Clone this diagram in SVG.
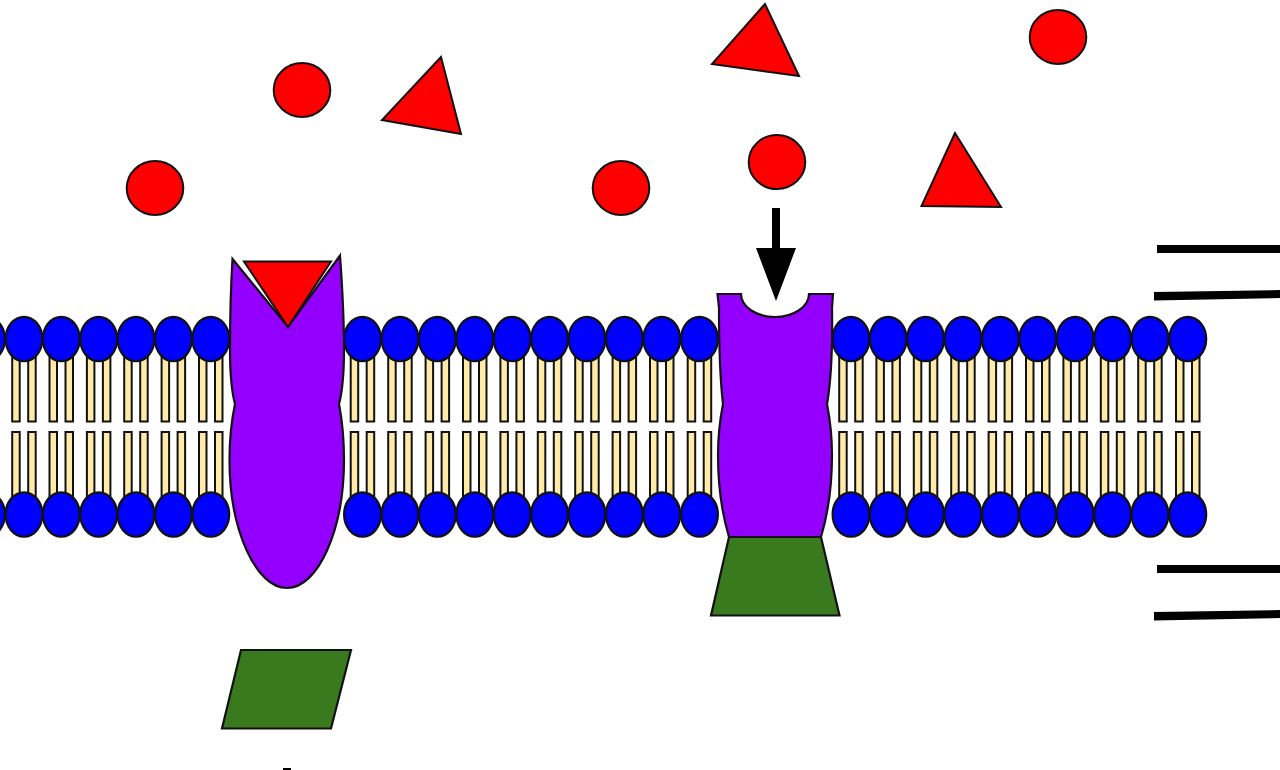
<svg xmlns="http://www.w3.org/2000/svg" xmlns:xlink="http://www.w3.org/1999/xlink" width="1280" height="770" viewBox="0 0 1280 770">
<style>
.head{fill:#0000ff;stroke:#111;stroke-width:2.2}
.tail{fill:#ffeaa8;stroke:#111;stroke-width:2}
.mol{fill:#ff0000;stroke:#111;stroke-width:2;stroke-linejoin:miter}
.prot{fill:#9400ff;stroke:#111;stroke-width:2.2;stroke-linejoin:miter}
.sub{fill:#3a7a1e;stroke:#111;stroke-width:2.2}
.bar{fill:#000}
</style>
<defs>
<!-- one lipid pair: upper and lower phospholipid around x=0 -->
<g id="lipid">
<rect class="tail" x="-11.800" y="352" width="7.500" height="69.500"/>
<rect class="tail" x="4.200" y="352" width="7.500" height="69.500"/>
<rect class="tail" x="-11.800" y="432" width="7.500" height="69"/>
<rect class="tail" x="4.200" y="432" width="7.500" height="69"/>
<ellipse class="head" cx="0" cy="339" rx="18.400" ry="22.200"/>
<ellipse class="head" cx="0" cy="514.500" rx="18.400" ry="22.200"/>
</g>
<ellipse id="ball" class="mol" rx="28.300" ry="27"/>
</defs>
<rect width="1280" height="770" fill="#fff"/>
<g id="membrane-left">
<use xlink:href="#lipid" x="-13.5"/><use xlink:href="#lipid" x="24"/><use xlink:href="#lipid" x="61.3"/><use xlink:href="#lipid" x="98.7"/><use xlink:href="#lipid" x="136"/><use xlink:href="#lipid" x="173.4"/><use xlink:href="#lipid" x="210.8"/>
</g>
<g id="membrane-middle">
<use xlink:href="#lipid" x="362.5"/><use xlink:href="#lipid" x="400"/><use xlink:href="#lipid" x="437.4"/><use xlink:href="#lipid" x="474.8"/><use xlink:href="#lipid" x="512.2"/><use xlink:href="#lipid" x="549.6"/><use xlink:href="#lipid" x="587"/><use xlink:href="#lipid" x="624.4"/><use xlink:href="#lipid" x="661.8"/><use xlink:href="#lipid" x="699.5"/>
</g>
<g id="membrane-right">
<use xlink:href="#lipid" x="851"/><use xlink:href="#lipid" x="888.2"/><use xlink:href="#lipid" x="925.6"/><use xlink:href="#lipid" x="963"/><use xlink:href="#lipid" x="1000.4"/><use xlink:href="#lipid" x="1037.8"/><use xlink:href="#lipid" x="1075.2"/><use xlink:href="#lipid" x="1112.6"/><use xlink:href="#lipid" x="1150"/><use xlink:href="#lipid" x="1187.8"/>
</g>
<g id="carrier-protein">
<path class="prot" d="M232.500 259 L288 327 L340 255.500 Q344 310 344 350 Q344 385 339 404 Q344 430 344 460 C344 530 318 588 287 588 C256 588 229.500 530 229.500 460 Q229.500 430 235 404 Q230 385 230 350 Q230 300 232.500 259Z"/>
</g>
<g id="bound-triangle"><polygon class="mol" points="244,261.500 331,261.500 288,327"/></g>
<g id="receptor-protein">
<path class="prot" d="M717.500 294 H741 A34 23 0 0 0 809 294 H833 L832 308 Q833 370 827 404 Q832 430 832 455 Q832 500 821 537 H729 Q718 500 718 455 Q718 430 723 404 Q719 370 719 308Z"/>
</g>
<g id="receptor-base"><polygon class="sub" points="729,537 821,537 839.500,615.500 711,615.500"/></g>
<g id="free-substrate"><polygon class="sub" points="241,650 351,650 331,728.500 222,728.500"/></g>
<g id="circle-1"><use xlink:href="#ball" x="155" y="188"/></g>
<g id="circle-2"><use xlink:href="#ball" x="302" y="90"/></g>
<g id="circle-3"><use xlink:href="#ball" x="621" y="188"/></g>
<g id="circle-4"><use xlink:href="#ball" x="777" y="162"/></g>
<g id="circle-5"><use xlink:href="#ball" x="1058" y="37"/></g>
<g id="triangle-1"><polygon class="mol" points="441,57 382,120 461,134"/></g>
<g id="triangle-2"><polygon class="mol" points="765,4 712,64 799,76"/></g>
<g id="triangle-3"><polygon class="mol" points="955,133 921.500,206 1001,207"/></g>
<g id="connectors">
<polygon class="bar" points="772,208 780,208 780,248 796,248 776,301 756,248 772,248"/>
</g>
<g id="side-marks">
<rect class="bar" x="1157" y="245" width="123" height="8"/>
<polygon class="bar" points="1154,292 1280,290 1280,298 1154,300.500"/>
<rect class="bar" x="1157" y="565" width="123" height="8"/>
<polygon class="bar" points="1154,612 1280,610 1280,618 1154,620.500"/>
<rect class="bar" x="283" y="768" width="8" height="2"/>
</g>
</svg>
